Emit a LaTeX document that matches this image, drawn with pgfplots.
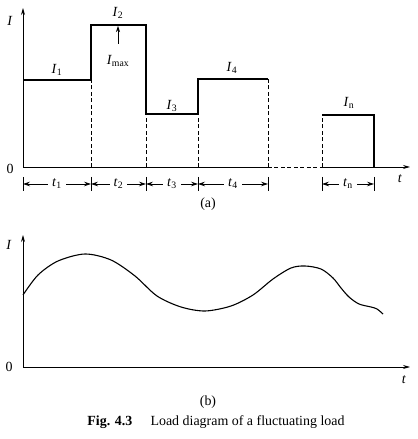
\documentclass[border=0pt]{standalone}
\usepackage{pgfplots}
\pgfplotsset{compat=1.18}
\usepackage{fontspec}
\setmainfont{Liberation Serif}
\usetikzlibrary{arrows.meta}
\newcommand{\sub}[2]{\textit{#1}\textsubscript{#2}}
\tikzset{ivl/.style={line width=0.7pt,{Stealth[length=7pt,width=4.5pt]}-{Stealth[length=7pt,width=4.5pt]}},
  bar/.style={line width=0.8pt},
  dsh/.style={line width=0.7pt,dash pattern=on 4pt off 2.5pt}}
\begin{document}
\begin{tikzpicture}[x=1bp,y=1bp,font=\fontsize{14}{16}\selectfont]
\path[use as bounding box] (0,0) rectangle (417,439);
% ---------- (a) ----------
\begin{axis}[at={(23bp,272bp)},anchor=south west,x=1bp,y=1bp,
  xmin=0,xmax=387,ymin=0,ymax=159,axis lines=none,clip=false]
\addplot[line width=0.9pt,-{Stealth[length=7pt,width=4pt]}] coordinates {(0,0)(0,159)};
\addplot[line width=0.8pt] coordinates {(0,0)(245,0)};
\addplot[dsh] coordinates {(245,0)(299,0)};
\addplot[line width=0.8pt,-{Stealth[length=7pt,width=4pt]}] coordinates {(299,0)(387,0)};
% profile
\addplot[line width=1.3pt] coordinates {(0,87)(68,87)(68,142)(123,142)(123,53)(175,53)(175,88)(245,88)};
\addplot[dsh] coordinates {(68,0)(68,87)};
\addplot[dsh] coordinates {(123,0)(123,53)};
\addplot[dsh] coordinates {(175,0)(175,53)};
\addplot[dsh] coordinates {(245,0)(245,88)};
\addplot[dsh] coordinates {(299,0)(299,52)};
\addplot[line width=1.3pt] coordinates {(299,52)(351,52)(351,0)};
% Imax arrow
\draw[line width=0.8pt,-{Stealth[length=6pt,width=4pt]}] (axis cs:95,123) -- (axis cs:95,141);
\node at (axis cs:95,106) {\sub{I}{max}};
\node at (axis cs:34,97) {\sub{I}{1}};
\node at (axis cs:95,154) {\sub{I}{2}};
\node at (axis cs:149,61) {\sub{I}{3}};
\node at (axis cs:209,99) {\sub{I}{4}};
\node at (axis cs:326,64) {\sub{I}{n}};
\node at (axis cs:-13,146) {\textit{I}};
\node at (axis cs:-13,-2) {0};
\node at (axis cs:377,-12) {\textit{t}};
% interval markers
\draw[ivl] (axis cs:0,-17) -- (axis cs:68,-17) node[midway,fill=white,inner sep=4pt] {\sub{t}{1}};
\draw[ivl] (axis cs:68,-17) -- (axis cs:123,-17) node[midway,fill=white,inner sep=4pt] {\sub{t}{2}};
\draw[ivl] (axis cs:123,-17) -- (axis cs:175,-17) node[midway,fill=white,inner sep=4pt] {\sub{t}{3}};
\draw[ivl] (axis cs:175,-17) -- (axis cs:245,-17) node[midway,fill=white,inner sep=4pt] {\sub{t}{4}};
\draw[ivl] (axis cs:299,-17) -- (axis cs:351,-17) node[midway,fill=white,inner sep=4pt] {\sub{t}{n}};
\draw[bar] (axis cs:0,-10) -- (axis cs:0,-24);
\draw[bar] (axis cs:68,-10) -- (axis cs:68,-24);
\draw[bar] (axis cs:123,-10) -- (axis cs:123,-24);
\draw[bar] (axis cs:175,-10) -- (axis cs:175,-24);
\draw[bar] (axis cs:245,-10) -- (axis cs:245,-24);
\draw[bar] (axis cs:299,-10) -- (axis cs:299,-24);
\draw[bar] (axis cs:351,-10) -- (axis cs:351,-24);
\end{axis}
% ---------- (b) ----------
\begin{axis}[at={(23bp,72bp)},anchor=south west,x=1bp,y=1bp,
  xmin=0,xmax=387,ymin=0,ymax=132,axis lines=none,clip=false]
\addplot[line width=0.9pt,-{Stealth[length=7pt,width=4pt]}] coordinates {(0,0)(0,132)};
\addplot[line width=0.8pt,-{Stealth[length=7pt,width=4pt]}] coordinates {(0,0)(387,0)};
\addplot[line width=1.1pt,smooth,tension=0.5] coordinates {
(0,72)(15,92)(35,106)(62,113)(88,107)(112,91)(134,71)(158,60)(182,56)
(208,61)(230,72)(250,88)(268,99)(282,101)(298,98)(310,89)(318,79)(326,70)(336,63)
(348,60)(354,58)(360,53)};
\node at (axis cs:-14,122) {\textit{I}};
\node at (axis cs:-14,0) {0};
\node at (axis cs:381,-13) {\textit{t}};
\end{axis}
\node at (208,235) {(a)};
\node at (208,37) {(b)};
\node at (216,17) {\textbf{Fig. 4.3}\hspace{1.3em}Load diagram of a fluctuating load};
\end{tikzpicture}
\end{document}
